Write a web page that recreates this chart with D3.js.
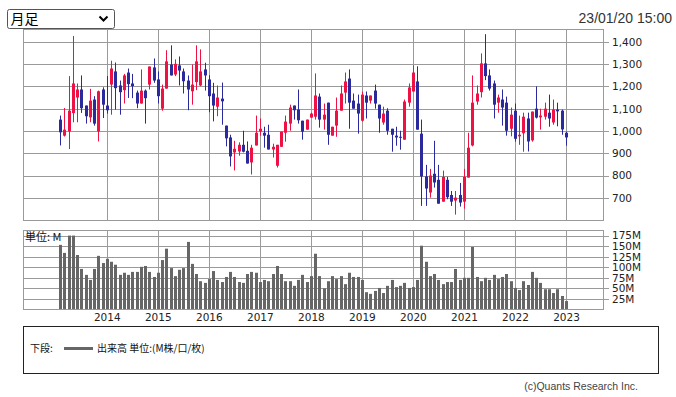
<!DOCTYPE html>
<html>
  <head>
    <meta charset="utf-8">
    <title>月足チャート</title>
    <style>
      body {
        margin: 0px;
        overflow: hidden;
        background: white;
      }

      .grid line {
        stroke: #9a9a9a;
        stroke-width: 1px;
        shape-rendering: crispEdges;
      }

      .frame {
        fill: none;
        stroke: #9a9a9a;
        stroke-width: 1px;
        shape-rendering: crispEdges;
      }

      .axis text {
        font-family: "DejaVu Sans", sans-serif;
        font-size: 10.5px;
        fill: #222;
      }

      .axis line, .axis path {
        stroke: #9a9a9a;
        shape-rendering: crispEdges;
      }

      .up { fill: #ee1144; stroke: #ee1144; }
      .down { fill: #2a2a9c; stroke: #2a2a9c; }

      .vol {
        fill: #666;
      }

      .jp {
        font-family: "Noto Sans CJK JP", sans-serif;
      }
    </style>
  </head>
  <body>
    <svg id="container" width="676" height="397"></svg>
    <script src="https://cdn.jsdelivr.net/npm/d3@7"></script>

    <script type="text/javascript">
      // monthly candles, Feb 2013 .. Jan 2023
      var open = [1051,979,998,1080,1150,1186,1114,1061,1141,998,
        1186,1114,1208,1267,1204,1183,1262,1213,1172,1123,
        1181,1208,1285,1231,1100,1190,1298,1253,1294,1267,
        1226,1178,1219,1204,1276,1231,1168,1109,1145,1024,
        971,904,908,938,911,859,935,998,992,983,
        917,844,929,992,1033,1114,1096,1046,1006,1060,
        1064,1154,1051,1127,979,1024,1091,1172,1235,1136,
        1123,1046,1159,1136,1181,1118,1038,1091,1010,979,
        974,961,1127,1177,1222,988,796,724,808,781,
        683,781,713,688,713,683,791,935,1132,1174,
        1303,1249,1213,1127,1141,1127,1010,1091,976,990,
        1056,958,1100,1061,1064,1082,1038,1096,1091,992];

      var high = [1069,1103,1246,1426,1213,1249,1114,1189,1156,1181,
        1196,1246,1315,1307,1226,1256,1280,1256,1181,1276,
        1186,1289,1325,1267,1208,1362,1384,1321,1334,1280,
        1249,1298,1384,1366,1306,1250,1216,1204,1217,1024,
        983,956,949,1001,953,938,1069,1056,1019,1028,
        943,938,997,1069,1118,1114,1186,1046,1051,1082,
        1258,1168,1123,1127,1019,1150,1204,1262,1276,1168,
        1163,1177,1177,1159,1208,1118,1109,1102,1010,1019,
        1001,1141,1213,1294,1290,1051,848,830,956,848,
        822,794,731,731,767,830,992,1249,1204,1348,
        1434,1276,1226,1163,1186,1154,1105,1123,1069,1082,
        1082,1087,1200,1100,1127,1163,1141,1127,1096,997];

      var low = [935,975,919,1039,1039,1081,1033,1039,1024,953,
        1058,1078,1073,1096,1073,1123,1148,1147,1102,1123,
        1033,1186,1216,1123,1091,1190,1249,1246,1204,1168,
        1093,1118,1183,1201,1181,1084,1043,1066,1028,931,
        841,823,889,904,854,805,935,979,925,917,
        881,836,929,952,1001,1051,1033,961,1006,1060,
        1051,1015,1006,938,979,974,1091,1123,1010,1100,
        988,1042,1056,1123,1100,992,1028,983,907,934,
        916,961,1109,1177,1006,664,664,701,746,674,
        683,694,664,625,661,652,791,931,1118,1150,
        1228,1181,1056,1082,1024,979,976,952,938,907,
        908,952,1056,1006,1051,1019,1028,1021,983,934];

      var close = [994,1006,1091,1213,1186,1102,1066,1136,1033,1178,
        1118,1093,1280,1192,1174,1249,1210,1201,1123,1181,
        1147,1289,1226,1156,1190,1312,1249,1301,1271,1223,
        1186,1208,1312,1267,1249,1156,1114,1150,1133,967,
        886,920,938,907,854,925,992,1010,979,917,
        929,938,997,1042,1105,1093,1048,997,1051,1078,
        1159,1051,1073,983,1019,1091,1168,1222,1127,1100,
        1078,1163,1127,1159,1123,1056,1078,1001,983,971,
        970,1132,1195,1262,1006,796,742,800,769,674,
        794,703,683,701,679,794,925,1127,1168,1303,
        1246,1190,1118,1150,1105,1001,1073,965,983,1064,
        953,1087,1060,1069,1100,1056,1096,1088,1007,971];

      // volume, millions
      var volume = [153,134,175,175,129,96,82,70,96,127,
        110,120,113,106,82,87,82,89,89,101,
        103,89,77,87,117,144,98,79,94,98,
        160,108,84,67,63,72,91,70,65,77,
        89,77,65,63,84,89,87,65,70,67,
        84,103,84,67,67,56,70,82,65,79,
        132,79,50,67,79,72,79,60,87,77,
        77,70,41,37,44,51,39,56,70,53,
        56,63,51,53,70,151,113,79,84,70,
        60,65,65,96,70,75,75,148,77,67,
        75,70,82,72,77,84,67,51,46,67,
        58,89,75,63,48,48,39,48,32,20];

      var priceTicks = [700, 800, 900, 1000, 1100, 1200, 1300, 1400];
      var volumeTicks = [25, 50, 75, 100, 125, 150, 175];
      var yearLabels = ['2014','2015','2016','2017','2018','2019','2020','2021','2022','2023'];

      var months = d3.timeMonth.range(new Date(2013, 1, 1), new Date(2023, 1, 1));
      var fmtMonth = d3.timeFormat('%Y-%m');
      var keys = months.map(fmtMonth);

      var svg = d3.select('#container');

      var left = 23, right = 603,
        priceTop = 29.5, priceBottom = 220,
        volTop = 230.5, volBottom = 309.5;

      var x = d3.scalePoint().domain(keys).range([60, 566]);
      var y = d3.scaleLinear().domain([600.8, 1455]).range([priceBottom, priceTop]);
      var yv = d3.scaleLinear().domain([0, 187]).range([volBottom, volTop]);

      var yearKeys = yearLabels.map(function(d) { return d + '-01'; });

      /*
        Header
      */
      var sel = svg.append('g').attr('transform', 'translate(7.5,9.5)');
      sel.append('rect')
        .attr('width', 107).attr('height', 19).attr('rx', 2)
        .attr('fill', 'white').attr('stroke', '#555');
      sel.append('text')
        .attr('class', 'jp')
        .attr('x', 3).attr('y', 14.5)
        .attr('font-size', 14).attr('fill', '#000')
        .text('月足');
      sel.append('path')
        .attr('d', 'M92,7 L96,11 L100,7')
        .attr('fill', 'none').attr('stroke', '#000').attr('stroke-width', 2);

      svg.append('text')
        .attr('x', 672).attr('y', 23)
        .attr('text-anchor', 'end')
        .attr('font-family', '"Liberation Sans", Arial, sans-serif')
        .attr('font-size', 14).attr('fill', '#333')
        .text('23/01/20 15:00');

      /*
        Price panel
      */
      var pg = svg.append('g').attr('class', 'grid');
      pg.selectAll('.h').data(priceTicks).enter().append('line')
        .attr('x1', left).attr('x2', right)
        .attr('y1', function(d) { return Math.round(y(d)) + 0.5; })
        .attr('y2', function(d) { return Math.round(y(d)) + 0.5; });
      pg.selectAll('.v').data(yearKeys).enter().append('line')
        .attr('x1', function(d) { return Math.round(x(d)) + 0.5; })
        .attr('x2', function(d) { return Math.round(x(d)) + 0.5; })
        .attr('y1', priceTop).attr('y2', priceBottom);

      svg.append('rect').attr('class', 'frame')
        .attr('x', left + 0.5).attr('y', priceTop)
        .attr('width', right - left).attr('height', priceBottom - priceTop);

      var candles = svg.append('g').selectAll('g').data(keys).enter().append('g')
        .attr('class', function(d, i) { return close[i] >= open[i] ? 'up' : 'down'; });

      candles.append('line')
        .attr('x1', function(d) { return Math.round(x(d)) + 0.5; })
        .attr('x2', function(d) { return Math.round(x(d)) + 0.5; })
        .attr('y1', function(d, i) { return y(high[i]); })
        .attr('y2', function(d, i) { return y(low[i]); })
        .attr('stroke-width', 1);

      candles.append('rect')
        .attr('stroke', 'none')
        .attr('x', function(d) { return Math.round(x(d)) - 1; })
        .attr('width', 3)
        .attr('y', function(d, i) { return y(Math.max(open[i], close[i])); })
        .attr('height', function(d, i) {
          return Math.max(1, Math.abs(y(open[i]) - y(close[i])));
        });

      svg.append('g')
        .attr('class', 'axis')
        .attr('transform', 'translate(' + right + ',0)')
        .call(d3.axisRight(y).tickValues(priceTicks).tickSize(6).tickPadding(3)
          .tickFormat(d3.format(',')))
        .call(function(g) { g.select('.domain').remove(); });

      /*
        Volume panel
      */
      var vg = svg.append('g').attr('class', 'grid');
      vg.selectAll('.h').data(volumeTicks).enter().append('line')
        .attr('x1', left).attr('x2', right)
        .attr('y1', function(d) { return Math.round(yv(d)) + 0.5; })
        .attr('y2', function(d) { return Math.round(yv(d)) + 0.5; });
      vg.selectAll('.v').data(yearKeys).enter().append('line')
        .attr('x1', function(d) { return Math.round(x(d)) + 0.5; })
        .attr('x2', function(d) { return Math.round(x(d)) + 0.5; })
        .attr('y1', volTop).attr('y2', volBottom);

      svg.append('g').selectAll('rect').data(keys).enter().append('rect')
        .attr('class', 'vol')
        .attr('x', function(d) { return Math.round(x(d)) - 1; })
        .attr('width', 3)
        .attr('y', function(d, i) { return yv(volume[i]); })
        .attr('height', function(d, i) { return volBottom - yv(volume[i]); });

      svg.append('rect').attr('class', 'frame')
        .attr('x', left + 0.5).attr('y', volTop)
        .attr('width', right - left).attr('height', volBottom - volTop);

      svg.append('text')
        .attr('class', 'jp')
        .attr('x', 25).attr('y', 241)
        .attr('font-size', 11).attr('fill', '#111')
        .text('単位: M');

      svg.append('g')
        .attr('class', 'axis')
        .attr('transform', 'translate(' + right + ',0)')
        .call(d3.axisRight(yv).tickValues(volumeTicks).tickSize(6).tickPadding(3)
          .tickFormat(function(d) { return d + 'M'; }))
        .call(function(g) { g.select('.domain').remove(); })
        .selectAll('text').attr('font-size', '10px');

      // year labels under the volume panel
      svg.append('g')
        .attr('class', 'axis')
        .attr('transform', 'translate(0,' + volBottom + ')')
        .call(d3.axisBottom(x).tickValues(yearKeys).tickSize(0).tickPadding(4)
          .tickFormat(function(d) { return d.slice(0, 4); }))
        .call(function(g) { g.select('.domain').remove(); });

      /*
        Legend
      */
      svg.append('rect')
        .attr('x', 23.5).attr('y', 326.5).attr('width', 635).attr('height', 47)
        .attr('fill', 'none').attr('stroke', '#222');

      svg.append('text').attr('class', 'jp')
        .attr('x', 30).attr('y', 352)
        .attr('font-size', 10).attr('fill', '#111')
        .text('下段:');
      svg.append('line')
        .attr('x1', 64).attr('x2', 93).attr('y1', 348.5).attr('y2', 348.5)
        .attr('stroke', '#666').attr('stroke-width', 3);
      svg.append('text').attr('class', 'jp')
        .attr('x', 97).attr('y', 352)
        .attr('font-size', 10).attr('fill', '#111')
        .text('出来高 単位:(M株/口/枚)');

      svg.append('text')
        .attr('x', 638).attr('y', 390)
        .attr('text-anchor', 'end')
        .attr('font-family', '"Liberation Sans", Arial, sans-serif')
        .attr('font-size', 10.5).attr('fill', '#444')
        .text('(c)Quants Research Inc.');
    </script>
  </body>
</html>
